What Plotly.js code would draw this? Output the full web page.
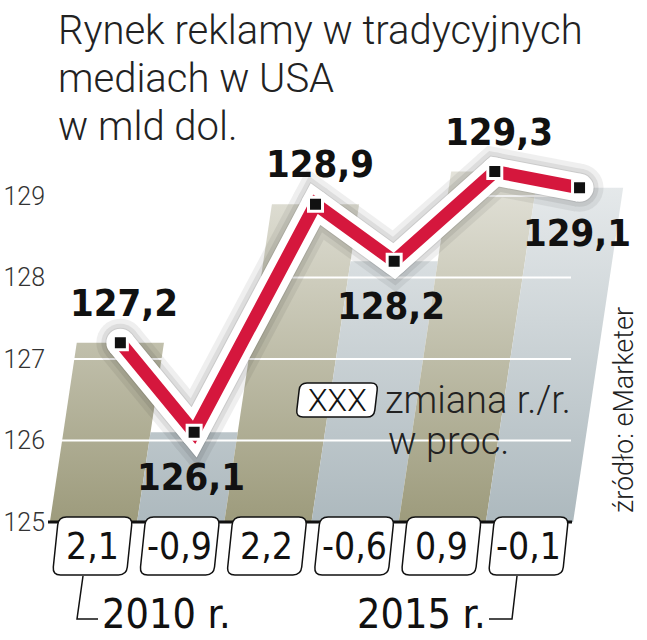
<!DOCTYPE html>
<html><head><meta charset="utf-8">
<script src="https://cdn.plot.ly/plotly-3.0.1.min.js"></script>
<style>html,body{margin:0;padding:0;background:#fff}</style>
</head><body><div id="chart" style="width:647px;height:640px"></div>
<script>
// ---- data ----
const years = [2010, 2011, 2012, 2013, 2014, 2015];
const values = [127.2, 126.1, 128.9, 128.2, 129.3, 129.1];
const valueLabels = ['127,2', '126,1', '128,9', '128,2', '129,3', '129,1'];
const changes = [2.1, -0.9, 2.2, -0.6, 0.9, -0.1];
const changeLabels = ['2,1', '-0,9', '2,2', '-0,6', '0,9', '-0,1'];
const yTicks = [125, 126, 127, 128, 129];
const yTickLabels = ['125', '126', '127', '128', '129'];
const titleLines = ['Rynek reklamy w tradycyjnych', 'mediach w USA', 'w mld dol.'];
const legendKey = 'XXX';
const legendLines = ['zmiana r./r.', 'w proc.'];
const sourceText = 'źródło: eMarketer';

// ---- geometry helpers (pixel -> data) ----
const X0 = 93.5, XU = 87.2, Y0 = 522, YU = 81.5;
const X = px => (px - X0) / XU;
const Y = py => 125 + (Y0 - py) / YU;
const S = 0.14; // perspective slant (x units per y unit)
const base = yTicks[0];

const NARROW = '"DejaVu Sans Condensed", "Liberation Sans Narrow", sans-serif';
const LIGHT = 'Roboto, "Liberation Sans", sans-serif';

const traces = [];
// stripes (slanted bars with vertical gradient)
values.forEach((v, i) => {
  const sh = S * (v - base);
  const col = i % 2 === 0 ? '#9d9b7c' : '#adb9be';
  traces.push({
    type: 'scatter', mode: 'lines', hoverinfo: 'skip',
    x: [i - 0.5, i + 0.5, i + 0.5 + sh, i - 0.5 + sh, i - 0.5],
    y: [base, base, v, v, base],
    fill: 'toself', line: {width: 0},
    fillgradient: {type: 'vertical', colorscale: [[0, col], [1, '#ffffff']], start: base, stop: 131}
  });
});
// white gridlines over stripes
const gx = [], gy = [];
yTicks.slice(1).forEach(t => { gx.push(X(40), X(571), null); gy.push(t, t, null); });
traces.push({type: 'scatter', mode: 'lines', x: gx, y: gy, line: {color: '#ffffff', width: 2}, hoverinfo: 'skip'});

const lx = values.map((v, i) => i + S * (v - base));
// shadow
[[48, 0.06], [38, 0.07], [30, 0.08]].forEach(([w, o]) => {
  traces.push({type: 'scatter', mode: 'lines+markers', x: lx, y: values, opacity: o, hoverinfo: 'skip',
    line: {color: '#000', width: w}, marker: {color: '#000', size: w, symbol: 'circle'}});
});
// white halo
traces.push({type: 'scatter', mode: 'lines+markers', x: lx, y: values, hoverinfo: 'skip',
  line: {color: '#ffffff', width: 28}, marker: {color: '#ffffff', size: 28, symbol: 'circle'}});
// red line
traces.push({type: 'scatter', mode: 'lines', x: lx, y: values, hoverinfo: 'skip',
  line: {color: '#d5173d', width: 13}});
// markers
traces.push({type: 'scatter', mode: 'markers', x: lx, y: values, hoverinfo: 'skip',
  marker: {symbol: 'square', size: 14, color: '#111', line: {color: '#ffffff', width: 3}}});

// ---- shapes ----
function roundedPath(pts, r) {
  const n = pts.length; let d = '';
  for (let k = 0; k < n; k++) {
    const c = pts[k], p = pts[(k - 1 + n) % n], q = pts[(k + 1) % n];
    const lp = Math.hypot(p[0] - c[0], p[1] - c[1]), lq = Math.hypot(q[0] - c[0], q[1] - c[1]);
    const a = [c[0] + (p[0] - c[0]) * r / lp, c[1] + (p[1] - c[1]) * r / lp];
    const b = [c[0] + (q[0] - c[0]) * r / lq, c[1] + (q[1] - c[1]) * r / lq];
    d += (k === 0 ? 'M' : 'L') + X(a[0]) + ',' + Y(a[1]) + ' Q' + X(c[0]) + ',' + Y(c[1]) + ' ' + X(b[0]) + ',' + Y(b[1]) + ' ';
  }
  return d + 'Z';
}
function pxPath(pts) {
  return pts.map((p, k) => (k === 0 ? 'M' : 'L') + X(p[0]) + ',' + Y(p[1])).join(' ');
}
const shapes = [];
shapes.push({type: 'line', xref: 'x', yref: 'y', x0: X(44), x1: X(572), y0: base, y1: base, line: {color: '#111', width: 3}});
const BT = 517, BB = 575, BW = 37, BS = 6;
changes.forEach((c, i) => {
  const cx = X0 + XU * i - 1;
  const pts = [[cx - BW + BS / 2, BT], [cx + BW + BS / 2, BT], [cx + BW - BS / 2, BB], [cx - BW - BS / 2, BB]];
  shapes.push({type: 'path', xref: 'x', yref: 'y', path: roundedPath(pts, 8), fillcolor: '#ffffff', line: {color: '#111', width: 1.5}});
});
// legend key box
shapes.push({type: 'path', xref: 'x', yref: 'y', path: roundedPath([[300, 383], [378, 383], [374, 417], [296, 417]], 7),
  fillcolor: '#ffffff', line: {color: '#111', width: 1.5}});
// year brackets
shapes.push({type: 'path', xref: 'x', yref: 'y', path: pxPath([[83, 576], [77, 619], [98, 619]]), line: {color: '#111', width: 1.5}});
shapes.push({type: 'path', xref: 'x', yref: 'y', path: pxPath([[517, 576], [512, 619], [489, 619]]), line: {color: '#111', width: 1.5}});

// ---- annotations ----
const ann = [];
titleLines.forEach((t, k) => {
  ann.push({xref: 'x', yref: 'y', x: X(56), y: Y(30 + 48 * k), xanchor: 'left', yanchor: 'middle', showarrow: false,
    text: t, font: {family: LIGHT, size: 40, weight: 300, color: '#222'}});
});
values.forEach((v, i) => {
  const prev = i > 0 ? values[i - 1] : -Infinity, next = i < values.length - 1 ? values[i + 1] : -Infinity;
  const above = v > prev && v > next || (i === 0 && v > next);
  ann.push({xref: 'x', yref: 'y', x: lx[i], y: v, showarrow: false, xanchor: 'center', yanchor: 'middle',
    xshift: above ? 4 : -3, yshift: above ? 40 : -45,
    text: '<b>' + valueLabels[i] + '</b>', font: {family: NARROW, size: 38, color: '#111'}});
});
changeLabels.forEach((t, i) => {
  ann.push({xref: 'x', yref: 'y', x: X(X0 + XU * i - 1), y: Y(546), showarrow: false, xanchor: 'center', yanchor: 'middle',
    text: t, font: {family: NARROW, size: 37, color: '#111'}});
});
ann.push({xref: 'x', yref: 'y', x: X(337), y: Y(400), showarrow: false, text: legendKey, font: {family: LIGHT, size: 32, weight: 300, color: '#111'}});
ann.push({xref: 'x', yref: 'y', x: X(383), y: Y(400), xanchor: 'left', showarrow: false, text: legendLines[0], font: {family: LIGHT, size: 38, weight: 300, color: '#222'}});
ann.push({xref: 'x', yref: 'y', x: X(386), y: Y(441), xanchor: 'left', showarrow: false, text: legendLines[1], font: {family: LIGHT, size: 38, weight: 300, color: '#222'}});
ann.push({xref: 'x', yref: 'y', x: X(624), y: Y(410), showarrow: false, textangle: -90, text: sourceText, font: {family: LIGHT, size: 27, weight: 300, color: '#222'}});
ann.push({xref: 'x', yref: 'y', x: X(100), y: Y(614), xanchor: 'left', showarrow: false, text: years[0] + ' r.', font: {family: NARROW, size: 41, color: '#111'}});
ann.push({xref: 'x', yref: 'y', x: X(488), y: Y(614), xanchor: 'right', showarrow: false, text: years[years.length - 1] + ' r.', font: {family: NARROW, size: 41, color: '#111'}});

const layout = {
  width: 647, height: 640, margin: {l: 48, r: 0, t: 0, b: 0},
  paper_bgcolor: '#ffffff', plot_bgcolor: 'rgba(0,0,0,0)', showlegend: false,
  xaxis: {range: [X(48), X(647)], visible: false, fixedrange: true},
  yaxis: {range: [Y(640), Y(0)], tickvals: yTicks, ticktext: yTickLabels, showgrid: false, zeroline: false,
    showline: false, ticks: '', ticklabelstandoff: 2, tickfont: {family: LIGHT, size: 25, weight: 300, color: '#333'}, fixedrange: true},
  shapes: shapes, annotations: ann
};
Plotly.newPlot('chart', traces, layout, {displayModeBar: false, staticPlot: true});
</script></body></html>
